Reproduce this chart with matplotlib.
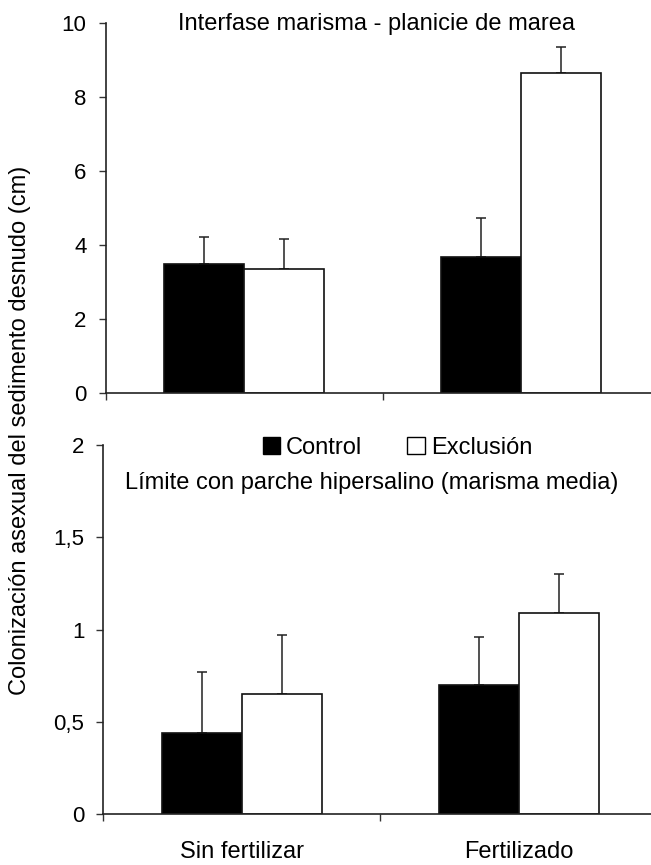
import matplotlib
matplotlib.use("Agg")
import matplotlib.pyplot as plt
from matplotlib.patches import Patch

plt.rcParams['font.family'] = ['Liberation Sans', 'DejaVu Sans']

categories = ["Sin fertilizar", "Fertilizado"]
series = ["Control", "Exclusión"]

# Interfase marisma - planicie de marea
top_control = [3.50, 3.68]
top_control_err = [0.71, 1.06]
top_exclusion = [3.35, 8.63]
top_exclusion_err = [0.81, 0.72]

# Límite con parche hipersalino (marisma media)
bot_control = [0.44, 0.70]
bot_control_err = [0.33, 0.26]
bot_exclusion = [0.65, 1.09]
bot_exclusion_err = [0.32, 0.21]

top_ticks = [0, 2, 4, 6, 8, 10]
top_ticklabels = ["0", "2", "4", "6", "8", "10"]
bot_ticks = [0, 0.5, 1, 1.5, 2]
bot_ticklabels = ["0", "0,5", "1", "1,5", "2"]

W, H = 651, 865
fig = plt.figure(figsize=(W / 100, H / 100), dpi=100)

ax_width = 554 / W
ax_top = fig.add_axes([105.5 / W, 471.7 / H, ax_width, 370.6 / H])
ax_bot = fig.add_axes([103.3 / W, 50.7 / H, ax_width, 369.3 / H])

bw = 0.289
x = list(range(len(categories)))
ekw = dict(elinewidth=1.1, capsize=3.3, capthick=1.1, ecolor="#222222")


def draw(ax, ctrl, ctrl_err, excl, excl_err, ymax, ticks, ticklabels):
    xc = [i - bw / 2 for i in x]
    xe = [i + bw / 2 for i in x]
    ax.bar(xc, ctrl, width=bw, color="black", edgecolor="#111111", linewidth=1.2, zorder=2)
    ax.bar(xe, excl, width=bw, color="white", edgecolor="#111111", linewidth=1.2, zorder=2)
    ax.errorbar(xc, ctrl, yerr=[[0] * len(ctrl), ctrl_err], fmt="none", zorder=1, **ekw)
    ax.errorbar(xe, excl, yerr=[[0] * len(excl), excl_err], fmt="none", zorder=1, **ekw)
    ax.set_xlim(-0.5, 1.5)
    ax.set_ylim(0, ymax)
    ax.set_yticks(ticks)
    ax.set_yticklabels(ticklabels, fontsize=16)
    ax.set_xticks([-0.5, 0.5, 1.5])
    ax.set_xticklabels([])
    ax.set_xticks(x, minor=True)
    ax.tick_params(axis="x", which="major", length=5, width=1, direction="out", color="#333333")
    ax.tick_params(axis="x", which="minor", length=0, pad=19, labelsize=17)
    ax.tick_params(axis="y", length=5.3, width=1, direction="out", pad=8.3, color="#333333")
    for s in ("top", "right"):
        ax.spines[s].set_visible(False)
    for s in ("left", "bottom"):
        ax.spines[s].set_linewidth(1.2)
        ax.spines[s].set_color("#222222")
    ax.set_facecolor("white")


draw(ax_top, top_control, top_control_err, top_exclusion, top_exclusion_err, 10, top_ticks, top_ticklabels)
draw(ax_bot, bot_control, bot_control_err, bot_exclusion, bot_exclusion_err, 2, bot_ticks, bot_ticklabels)

ax_bot.set_xticklabels(categories, minor=True)

ax_top.text(0.490, 0.980, "Interfase marisma - planicie de marea", transform=ax_top.transAxes,
            ha="center", va="baseline", fontsize=17)
ax_bot.text(0.485, 0.881, "Límite con parche hipersalino (marisma media)", transform=ax_bot.transAxes,
            ha="center", va="baseline", fontsize=17)

handles = [Patch(facecolor="black", edgecolor="black", label=series[0]),
           Patch(facecolor="white", edgecolor="black", label=series[1])]
ax_bot.legend(handles=handles, loc="center", bbox_to_anchor=(0.531, 0.992), ncol=2, frameon=False,
              fontsize=17, handlelength=0.75, handleheight=0.75, handletextpad=0.25,
              columnspacing=1.9, borderpad=0)

fig.text(20 / W, 1 - 430 / H, "Colonización asexual del sedimento desnudo (cm)", rotation=90,
         ha="center", va="center", fontsize=17)

fig.savefig("out.png", dpi=100, facecolor="white")
